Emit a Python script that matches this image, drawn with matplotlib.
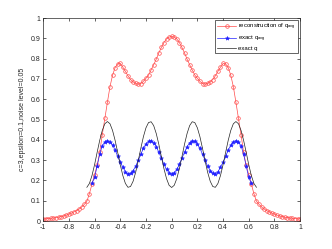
import numpy as np
import matplotlib
matplotlib.use("Agg")
import matplotlib.pyplot as plt

plt.rcParams['font.family'] = ['Liberation Sans', 'DejaVu Sans']
plt.rcParams['mathtext.fontset'] = 'custom'
plt.rcParams['mathtext.rm'] = 'Liberation Sans'
plt.rcParams['mathtext.it'] = 'Liberation Sans'

# reconstruction of q_avg, x = -1 : 0.02 : 1 (left half incl. 0, mirrored)
red_x = np.round(np.arange(-1.0, 1.0001, 0.02), 2)
red_left = [0.010, 0.011, 0.012, 0.013, 0.015, 0.017, 0.019, 0.022, 0.025, 0.029,
            0.034, 0.039, 0.045, 0.051, 0.059, 0.069, 0.082, 0.097, 0.135, 0.182,
            0.228, 0.274, 0.338, 0.425, 0.505, 0.585, 0.662, 0.718, 0.756, 0.774,
            0.776, 0.758, 0.737, 0.715, 0.697, 0.685, 0.678, 0.674, 0.677, 0.688,
            0.703, 0.719, 0.744, 0.770, 0.797, 0.828, 0.855, 0.879, 0.897, 0.906,
            0.909]
red_y = red_left + red_left[-2::-1]

# exact q_avg, x = -0.62 : 0.02 : 0.62
blue_x = np.round(np.arange(-0.62, 0.62001, 0.02), 2)
blue_left = [0.185, 0.215, 0.270, 0.330, 0.370, 0.390, 0.396, 0.390, 0.374, 0.349,
             0.319, 0.289, 0.266, 0.242, 0.233, 0.235, 0.248, 0.270, 0.299, 0.329,
             0.358, 0.380, 0.393, 0.395, 0.386, 0.366, 0.339, 0.309, 0.279, 0.254,
             0.238, 0.232]
blue_y = blue_left + blue_left[-2::-1]

# exact q, x = -0.66 : 0.02 : 0.66
black_x = np.round(np.arange(-0.66, 0.66001, 0.02), 2)
black_left = [0.166, 0.185, 0.224, 0.277, 0.338, 0.397, 0.446, 0.479, 0.490, 0.479,
              0.446, 0.397, 0.338, 0.277, 0.224, 0.185, 0.166, 0.170, 0.196, 0.240,
              0.297, 0.358, 0.415, 0.459, 0.485, 0.489, 0.470, 0.431, 0.378, 0.317,
              0.258, 0.209, 0.176, 0.165]
black_y = black_left + black_left[-2::-1]

xticks = [-1, -0.8, -0.6, -0.4, -0.2, 0, 0.2, 0.4, 0.6, 0.8, 1]
xticklabels = ['-1', '-0.8', '-0.6', '-0.4', '-0.2', '0', '0.2', '0.4', '0.6', '0.8', '1']
yticks = [0, 0.1, 0.2, 0.3, 0.4, 0.5, 0.6, 0.7, 0.8, 0.9, 1]
yticklabels = ['0', '0.1', '0.2', '0.3', '0.4', '0.5', '0.6', '0.7', '0.8', '0.9', '1']

fig = plt.figure(figsize=(3.32, 2.49), dpi=100)
ax = fig.add_axes([0.13, 0.1124, 0.7741, 0.8153])

red_c = '#ff4a4a'
blue_c = '#2020ff'
ax.plot(red_x, red_y, '-', color=red_c, lw=0.5, marker='o', ms=2.6,
        mfc='none', mec=red_c, mew=0.5, label='reconstruction of q$_{avg}$')
ax.plot(blue_x, blue_y, '-', color=blue_c, lw=0.5, marker='*', ms=3.0,
        mfc=blue_c, mec=blue_c, mew=0.4, label='exact q$_{avg}$')
ax.plot(black_x, black_y, '-', color='#222222', lw=0.5, label='exact q')

ax.set_xlim(-1, 1)
ax.set_ylim(0, 1)
ax.set_xticks(xticks)
ax.set_xticklabels(xticklabels)
ax.set_yticks(yticks)
ax.set_yticklabels(yticklabels)
ax.tick_params(direction='in', length=2.5, width=0.5, labelsize=5,
               colors='#262626', top=True, right=True, pad=2)
for s in ax.spines.values():
    s.set_linewidth(0.5)
    s.set_color('#262626')
ax.set_ylabel('c=3,epsilon=0.1,noise level=0.05', fontsize=5, color='#262626', labelpad=3)

leg = ax.legend(loc='upper right', fontsize=4.3, frameon=True, fancybox=False,
                edgecolor='#262626', framealpha=1, borderpad=0.35, labelspacing=0.3,
                handlelength=3.2, handletextpad=0.3, borderaxespad=0.35)
leg.get_frame().set_linewidth(0.5)

fig.savefig('out.png', dpi=100)
